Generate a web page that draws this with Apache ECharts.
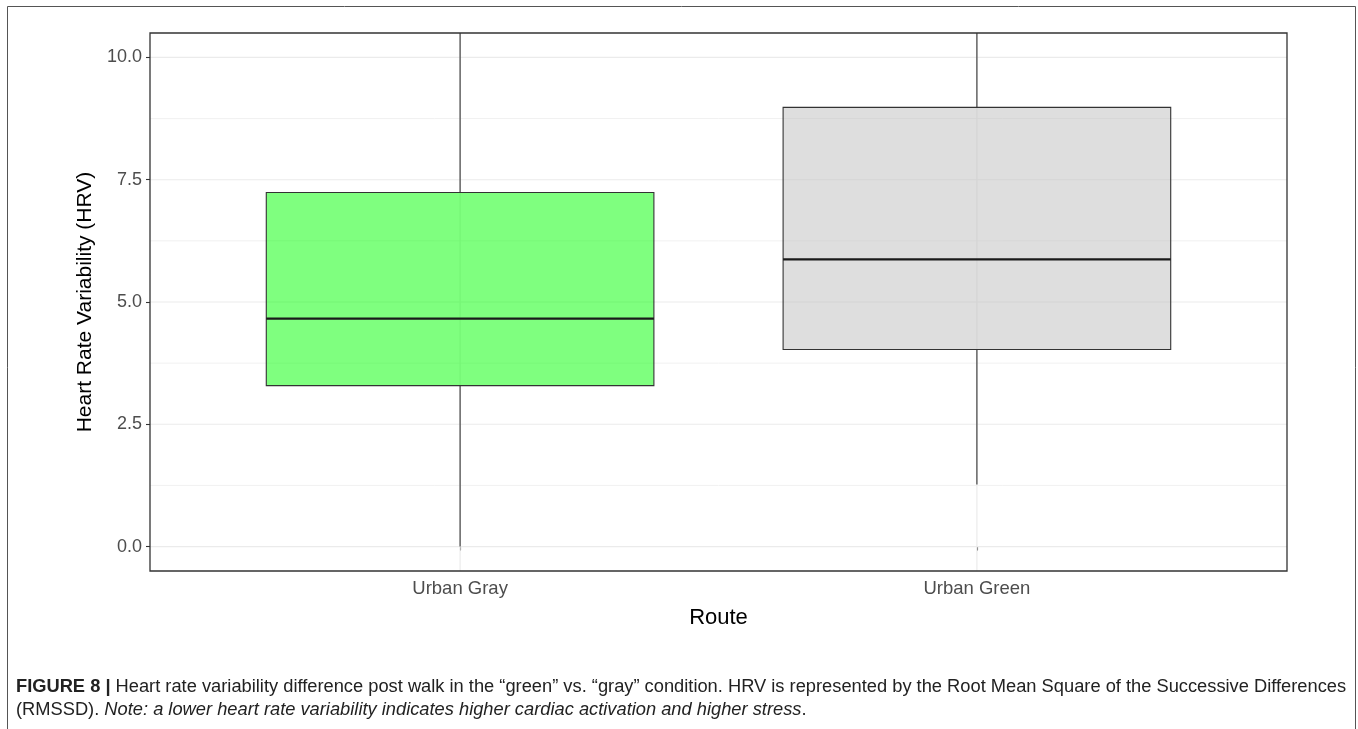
<!DOCTYPE html>
<html>
<head>
<meta charset="utf-8">
<script src="https://cdn.jsdelivr.net/npm/echarts@6/dist/echarts.min.js"></script>
<style>
  html, body { margin: 0; padding: 0; background: #fff; }
  #chart { width: 1358px; height: 729px; }
</style>
</head>
<body>
<div id="chart"></div>
<script>
// Route categories and their boxplot statistics (RMSSD)
const routes = ['Urban Gray', 'Urban Green'];
const whiskerLow = [0.0, 1.27];
const q1 = [3.29, 4.03];
const median = [4.66, 5.87];
const q3 = [7.24, 8.98];
const whiskerHigh = [12.8, 14.5];   // beyond the visible range, clipped at the panel top
const boxFills = ['rgba(0,255,0,0.5)', 'rgba(190,190,190,0.5)'];

// Axis ticks
const yMajorTicks = [0, 2.5, 5, 7.5, 10];
const yMinorTicks = [1.25, 3.75, 6.25, 8.75];
const xTicks = [1, 2];

const FONT = 'Liberation Sans, Arial, Helvetica, sans-serif';

const boxData = routes.map((r, i) => [i + 1, whiskerLow[i], q1[i], median[i], q3[i], whiskerHigh[i]]);

const chart = echarts.init(document.getElementById('chart'), null, { renderer: 'canvas' });

chart.setOption({
  animation: false,
  backgroundColor: '#ffffff',
  grid: {
    left: 150, top: 33, width: 1137, height: 538,
    show: true, borderColor: '#333333', borderWidth: 1.3, backgroundColor: 'transparent',
    z: 10
  },
  xAxis: {
    type: 'value', min: 0.4, max: 2.6,
    axisLine: { show: false },
    splitLine: { show: false },
    axisTick: { show: true, customValues: xTicks, length: 4, lineStyle: { color: '#333333', width: 1.1 } },
    axisLabel: {
      customValues: xTicks, margin: 8,
      color: '#4d4d4d', fontSize: 18.5, fontFamily: FONT,
      formatter: v => routes[Math.round(v) - 1] || ''
    },
    name: 'Route', nameLocation: 'middle', nameGap: 36,
    nameTextStyle: { color: '#000000', fontSize: 22, fontFamily: FONT }
  },
  yAxis: {
    type: 'value', min: -0.5, max: 10.5,
    axisLine: { show: false },
    splitLine: { show: false },
    axisTick: { show: true, customValues: yMajorTicks, length: 4, lineStyle: { color: '#333333', width: 1.1 } },
    axisLabel: {
      customValues: yMajorTicks, margin: 8,
      color: '#4d4d4d', fontSize: 18, fontFamily: FONT,
      formatter: v => v.toFixed(1)
    },
    name: 'Heart Rate Variability (HRV)', nameLocation: 'middle', nameGap: 51,
    nameTextStyle: { color: '#000000', fontSize: 21, fontFamily: FONT }
  },
  graphic: [
    // figure frame
    { type: 'polyline', shape: { points: [[7.5, 729], [7.5, 6.5], [1355.5, 6.5], [1355.5, 729]] },
      style: { stroke: '#555555', lineWidth: 1, fill: null }, silent: true },
    // caption
    {
      type: 'text', left: 16, top: 675, silent: true,
      style: {
        text: '{b|FIGURE 8 |} Heart rate variability difference post walk in the \u201cgreen\u201d vs. \u201cgray\u201d condition. HRV is represented by the Root Mean Square of the Successive Differences\n(RMSSD). {i|Note: a lower heart rate variability indicates higher cardiac activation and higher stress}.',
        font: '18.3px ' + FONT, fill: '#222222', lineHeight: 23,
        rich: {
          b: { fontWeight: 'bold', fontSize: 18.3, fontFamily: FONT, fill: '#222222', lineHeight: 23 },
          i: { fontStyle: 'italic', fontSize: 18.3, fontFamily: FONT, fill: '#222222', lineHeight: 23 }
        }
      }
    }
  ],
  series: [
    {
      // horizontal grid lines (major and minor)
      type: 'custom', z: 1, silent: true,
      data: yMajorTicks.map(v => [v, 1]).concat(yMinorTicks.map(v => [v, 0])),
      encode: { y: 0 },
      renderItem: (params, api) => {
        const cs = params.coordSys;
        const y = api.coord([1, api.value(0)])[1];
        return {
          type: 'line',
          shape: { x1: cs.x, y1: y, x2: cs.x + cs.width, y2: y },
          style: { stroke: api.value(1) ? '#ebebeb' : '#f1f1f1', lineWidth: api.value(1) ? 1.2 : 1 }
        };
      }
    },
    {
      // vertical grid lines at each route
      type: 'custom', z: 1, silent: true,
      data: xTicks.map(v => [v]),
      encode: { x: 0 },
      renderItem: (params, api) => {
        const cs = params.coordSys;
        const x = api.coord([api.value(0), 0])[0];
        return {
          type: 'line',
          shape: { x1: x, y1: cs.y, x2: x, y2: cs.y + cs.height },
          style: { stroke: '#ebebeb', lineWidth: 1.2 }
        };
      }
    },
    {
      // boxplots
      type: 'custom', z: 5, clip: true, silent: true,
      data: boxData,
      encode: { x: 0, y: [1, 2, 3, 4, 5] },
      renderItem: (params, api) => {
        const xv = api.value(0);
        const lo = api.coord([xv, api.value(1)]);
        const b1 = api.coord([xv, api.value(2)]);
        const md = api.coord([xv, api.value(3)]);
        const b3 = api.coord([xv, api.value(4)]);
        const hi = api.coord([xv, api.value(5)]);
        const w = api.size([0.75, 0])[0];
        const x0 = lo[0] - w / 2;
        const stroke = '#333333';
        return {
          type: 'group',
          children: [
            { type: 'line', shape: { x1: lo[0], y1: lo[1], x2: lo[0], y2: b1[1] },
              style: { stroke: stroke, lineWidth: 1.1 } },
            { type: 'line', shape: { x1: lo[0], y1: b3[1], x2: lo[0], y2: hi[1] },
              style: { stroke: stroke, lineWidth: 1.1 } },
            { type: 'rect', shape: { x: x0, y: b3[1], width: w, height: b1[1] - b3[1] },
              style: { fill: boxFills[params.dataIndex], stroke: stroke, lineWidth: 1.1 } },
            { type: 'line', shape: { x1: x0, y1: md[1], x2: x0 + w, y2: md[1] },
              style: { stroke: '#1a1a1a', lineWidth: 2.2 } }
          ]
        };
      }
    }
  ]
});
</script>
</body>
</html>
